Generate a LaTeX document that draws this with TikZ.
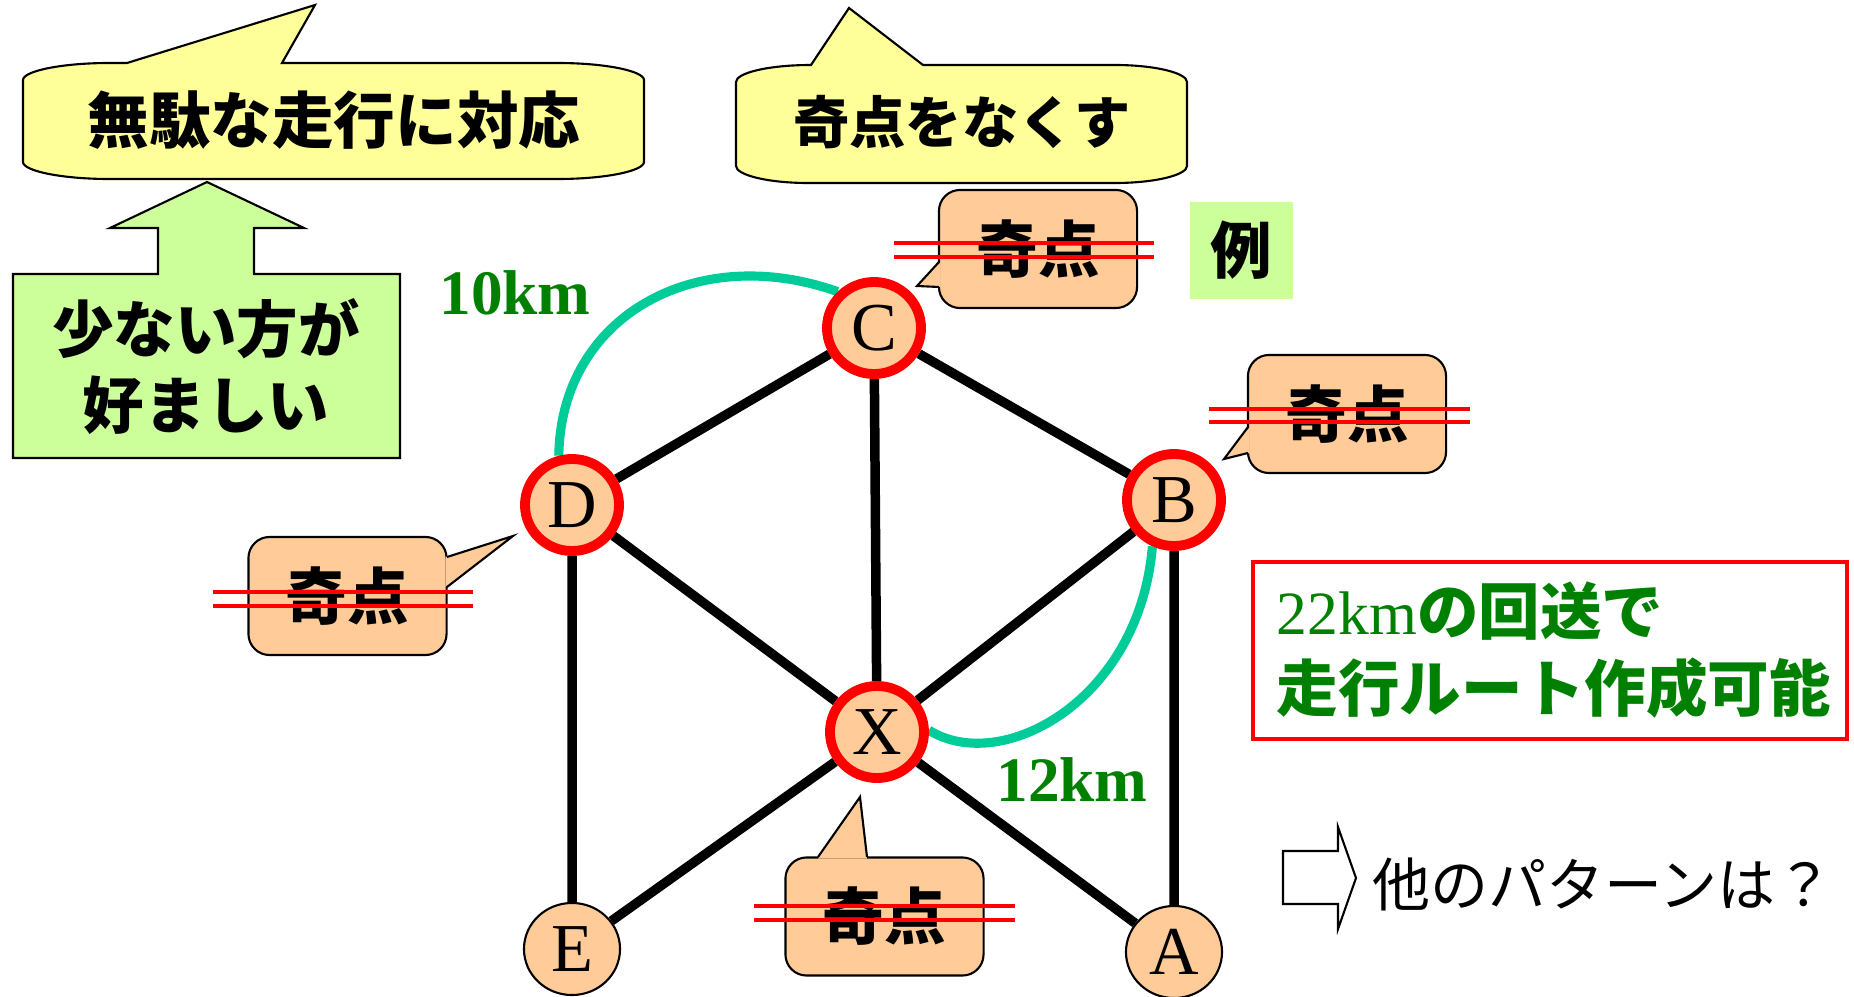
\documentclass[tikz,border=0pt]{standalone}
\usepackage{fontspec}
\setmainfont{Liberation Serif}
\newfontfamily\jp{Noto Sans CJK JP}
\usetikzlibrary{shapes,arrows}
\usetikzlibrary{positioning,backgrounds}
\definecolor{peach}{HTML}{FFCC99}
\definecolor{paleyellow}{HTML}{FFFF99}
\definecolor{palegreen}{HTML}{CCFF99}
\definecolor{detourgreen}{HTML}{00CC99}
\definecolor{kmgreen}{HTML}{008000}
\tikzset{
    oddpt/.style={
           ellipse,
           draw=red, line width=2.8pt,
           fill=peach,
           minimum width=0.94cm,
           minimum height=0.92cm,
           inner sep=0pt,
           font=\fontsize{19.5}{20}\selectfont
           },
    evenpt/.style={
           ellipse,
           draw=black, line width=0.6pt,
           fill=peach,
           minimum width=0.96cm,
           minimum height=0.92cm,
           inner sep=0pt,
           font=\fontsize{19.5}{20}\selectfont
           },
    road/.style={line width=2.7pt},
    detour/.style={line width=2.6pt, draw=detourgreen},
    dist/.style={
           text=kmgreen,
           font=\bfseries\fontsize{18}{20}\selectfont
           },
    note/.style={
           draw=black, line width=0.6pt,
           fill=peach,
           rounded corners=6pt,
           minimum width=1.98cm,
           minimum height=1.18cm,
           font=\jp\bfseries\fontsize{17.5}{20}\selectfont
           },
    beak/.style={draw=black, line width=0.6pt},
    strike/.style={draw=red, line width=1.1pt},
    bubble/.style={draw=black, line width=0.6pt, fill=paleyellow},
    big/.style={font=\jp\bfseries\fontsize{17.5}{21.6}\selectfont}
}
\begin{document}
\begin{tikzpicture}[x=0.01cm, y=-0.01cm]
\useasboundingbox (0,0) rectangle (1854,997);

   \node[oddpt]  (C) at (874,328)  {C};
   \node[oddpt]  (D) at (572,505)  {D};
   \node[oddpt]  (B) at (1174,500) {B};
   \node[oddpt]  (X) at (877,732)  {X};
   \node[evenpt] (E) at (572,949)  {E};
   \node[evenpt] (A) at (1174,952) {A};

   \begin{scope}[on background layer]
   \path[draw, road]
    (C) -- (D)  (C) -- (B)  (C) -- (X)
    (D) -- (X)  (D) -- (E)
    (B) -- (X)  (B) -- (A)
    (X) -- (E)  (X) -- (A);
   \draw[detour] (D.105) .. controls +(2,-140) and +(-141,-50) .. (C.135);
   \draw[detour] (X.2) .. controls +(72,45) and +(-13,155) .. (B.245);
   \end{scope}

   \node[dist] (km10) at (515,293)  {10km};
   \node[dist] (km12) at (1072,780) {12km};

   % speech bubbles
   \draw[bubble] (127,63) -- (315,5) -- (282,63) -- (558,63)
     .. controls (605,63) and (644,71) .. (644,80) -- (644,162)
     .. controls (644,171) and (605,179) .. (558,179) -- (109,179)
     .. controls (62,179) and (23,171) .. (23,162) -- (23,80)
     .. controls (23,71) and (62,63) .. (109,63) -- cycle;
   \node[big] (waste) at (334,120) {無駄な走行に対応};

   \draw[bubble] (811,65) -- (849,8) -- (923,65) -- (1115,65)
     .. controls (1155,65) and (1187,73) .. (1187,82) -- (1187,166)
     .. controls (1187,175) and (1155,183) .. (1115,183) -- (808,183)
     .. controls (768,183) and (736,175) .. (736,166) -- (736,82)
     .. controls (736,73) and (768,65) .. cycle;
   \node[big, font=\jp\bfseries\fontsize{16}{20}\selectfont] (goal) at (962,122) {奇点をなくす};

   \draw[line width=0.6pt, fill=palegreen] (13,274) -- (158,274) -- (158,228) -- (110,228)
     -- (207,182) -- (304,228) -- (254,228) -- (254,274) -- (400,274) -- (400,458)
     -- (13,458) -- cycle;
   \node[big, align=center] (pref) at (206,367) {少ない方が\\好ましい};

   \node[fill=palegreen, minimum width=1.03cm, minimum height=0.97cm,
         font=\jp\bfseries\fontsize{17.5}{20}\selectfont] (ex) at (1241.5,250.5) {例};

   % odd point notes
   \node[note] (nc) at (1038,249) {奇点};
   \fill[peach] (940.5,262) -- (917,286) -- (940.5,287) -- cycle;
   \draw[beak] (939,262) -- (917,286) -- (939,287);
   \draw[strike] (894,243) -- (1154,243) (894,257) -- (1154,257);

   \node[note] (nb) at (1347,414) {奇点};
   \fill[peach] (1249.5,427) -- (1224,459) -- (1249.5,453) -- cycle;
   \draw[beak] (1248,427) -- (1224,459) -- (1248,453);
   \draw[strike] (1209,409) -- (1470,409) (1209,422) -- (1470,422);

   \node[note] (nd) at (347.5,596) {奇点};
   \fill[peach] (445.5,557) -- (513,536) -- (445.5,587) -- cycle;
   \draw[beak] (447,557) -- (513,536) -- (447,587);
   \draw[strike] (213,592) -- (473,592) (213,606) -- (473,606);

   \node[note] (nx) at (884.5,916.5) {奇点};
   \fill[peach] (818,858.5) -- (860,797) -- (867,858.5) -- cycle;
   \draw[beak] (818,857) -- (860,797) -- (867,857);
   \draw[strike] (754,906) -- (1015,906) (754,920) -- (1015,920);

   \node[draw=red, line width=1pt, minimum width=5.94cm, minimum height=1.77cm,
         text width=5.46cm, inner xsep=0.24cm, align=left, text=kmgreen,
         font=\jp\bfseries\fontsize{17.5}{21.9}\selectfont] (plan) at (1550,650.5)
         {{\rmfamily\mdseries 22km}の回送で\\走行ルート作成可能};

   \draw[line width=0.6pt, fill=white] (1283,851) -- (1338,851) -- (1338,827) -- (1356,878)
     -- (1338,929) -- (1338,904) -- (1283,904) -- cycle;
   \node[anchor=west, inner sep=0pt, font=\jp\fontsize{16.5}{20}\selectfont] (other) at (1372,884)
         {他のパターンは？};
\end{tikzpicture}
\end{document}
